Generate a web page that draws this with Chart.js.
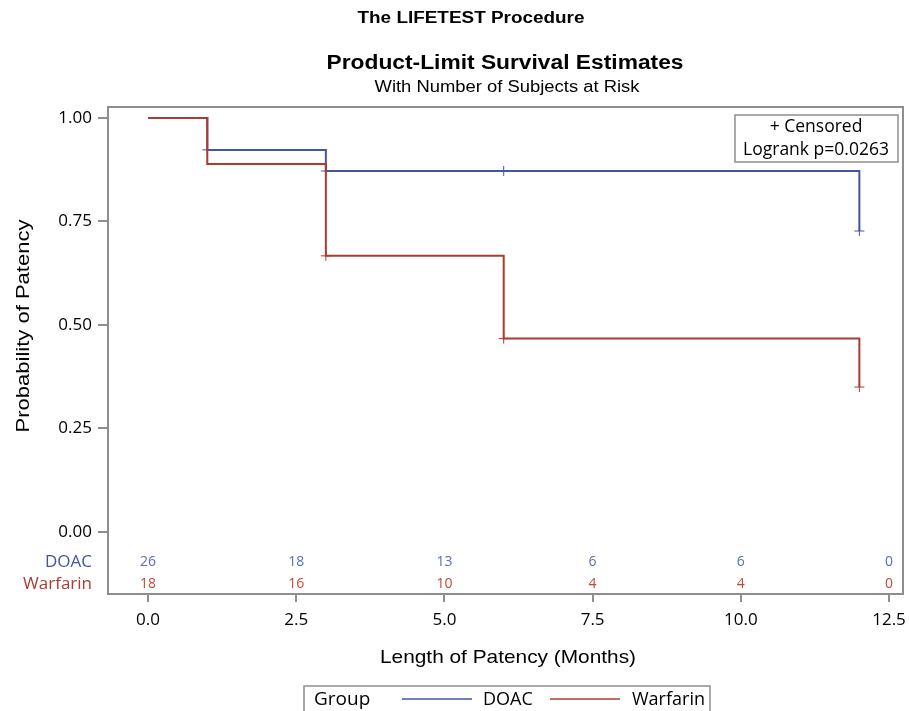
<!DOCTYPE html>
<html>
<head>
<meta charset="utf-8">
<script src="https://cdn.jsdelivr.net/npm/chart.js@4.4.1/dist/chart.umd.min.js"></script>
<style>
  html, body { margin: 0; padding: 0; background: #fff; }
  #wrap { width: 909px; height: 711px; position: relative; }
</style>
</head>
<body>
<div id="wrap"><canvas id="km"></canvas></div>
<script>
// Kaplan-Meier step values (time in months, survival probability)
const doacTimes = [0, 1, 3, 12];
const doacSurv = [1.0, 0.923, 0.872, 0.727];
const warfTimes = [0, 1, 3, 6, 12];
const warfSurv = [1.0, 0.889, 0.667, 0.467, 0.350];

// censored observations
const doacCensTimes = [1, 3, 6, 12];
const doacCensSurv = [0.923, 0.872, 0.872, 0.727];
const warfCensTimes = [3, 6, 12];
const warfCensSurv = [0.667, 0.467, 0.350];

// number at risk
const riskTimes = [0, 2.5, 5, 7.5, 10, 12.5];
const doacRisk = [26, 18, 13, 6, 6, 0];
const warfRisk = [18, 16, 10, 4, 4, 0];

const xTicks = [0, 2.5, 5, 7.5, 10, 12.5];
const yTicks = [0, 0.25, 0.5, 0.75, 1];

const BLUE = '#4455a3';
const RED = '#ac3b30';
const BLUE_L = '#5b6db8';
const RED_L = '#c0493d';
const FRAME = '#8e8e8e';

const pts = (xs, ys) => xs.map((x, i) => ({ x: x, y: ys[i] }));

// draw text centred at (cx, cy), stretched to a given width
function fitText(ctx, text, cx, cy, font, w) {
  ctx.save();
  ctx.font = font;
  const m = ctx.measureText(text).width;
  ctx.translate(cx, cy);
  ctx.scale(w / m, 1);
  ctx.textAlign = 'center';
  ctx.fillText(text, 0, 0);
  ctx.restore();
}

const extras = {
  id: 'extras',
  afterDraw(chart) {
    const { ctx, chartArea: a, scales } = chart;
    const xs = scales.x;
    ctx.save();

    // frame
    ctx.strokeStyle = FRAME;
    ctx.lineWidth = 2;
    ctx.strokeRect(a.left, a.top, a.right - a.left, a.bottom - a.top);

    // titles
    ctx.fillStyle = '#000';
    ctx.textBaseline = 'middle';
    fitText(ctx, 'The LIFETEST Procedure', 471, 19, 'bold 16px "Liberation Sans", Arial, sans-serif', 227);
    fitText(ctx, 'Product-Limit Survival Estimates', 505, 63, 'bold 20px "Liberation Sans", Arial, sans-serif', 357);
    fitText(ctx, 'With Number of Subjects at Risk', 507, 88, '16px "Liberation Sans", Arial, sans-serif', 265);

    // axis titles
    fitText(ctx, 'Length of Patency (Months)', 508, 658, '19px "Liberation Sans", Arial, sans-serif', 256);
    ctx.save();
    ctx.translate(24, 326);
    ctx.rotate(-Math.PI / 2);
    fitText(ctx, 'Probability of Patency', 0, 0, '19px "Liberation Sans", Arial, sans-serif', 213);
    ctx.restore();

    // at-risk table
    ctx.textAlign = 'right';
    ctx.font = '17px "Open Sans", sans-serif';
    ctx.fillStyle = BLUE;
    ctx.fillText('DOAC', 92, 562);
    ctx.fillStyle = RED;
    ctx.fillText('Warfarin', 92, 584);
    ctx.textAlign = 'center';
    ctx.font = '14px "Open Sans", sans-serif';
    riskTimes.forEach((t, i) => {
      const px = xs.getPixelForValue(t);
      ctx.fillStyle = BLUE_L;
      ctx.fillText(String(doacRisk[i]), px, 562);
      ctx.fillStyle = RED_L;
      ctx.fillText(String(warfRisk[i]), px, 584);
    });

    // inset box
    ctx.fillStyle = '#fff';
    ctx.fillRect(735, 115, 163, 47);
    ctx.strokeStyle = FRAME;
    ctx.lineWidth = 1.5;
    ctx.strokeRect(735, 115, 163, 47);
    ctx.fillStyle = '#000';
    ctx.font = '17.5px "Open Sans", sans-serif';
    ctx.fillText('+ Censored', 816, 127);
    ctx.fillText('Logrank p=0.0263', 816, 150);

    // bottom legend
    ctx.strokeStyle = FRAME;
    ctx.lineWidth = 1.5;
    ctx.strokeRect(304, 686, 406, 30);
    ctx.textAlign = 'left';
    ctx.font = '19px "Open Sans", sans-serif';
    ctx.fillText('Group', 314, 700);
    ctx.font = '18px "Open Sans", sans-serif';
    ctx.strokeStyle = BLUE;
    ctx.beginPath(); ctx.moveTo(402, 699); ctx.lineTo(472, 699); ctx.stroke();
    ctx.fillText('DOAC', 483, 700);
    ctx.strokeStyle = RED;
    ctx.beginPath(); ctx.moveTo(550, 699); ctx.lineTo(620, 699); ctx.stroke();
    ctx.fillText('Warfarin', 632, 700);

    ctx.restore();
  }
};

new Chart(document.getElementById('km'), {
  type: 'line',
  data: {
    datasets: [
      { label: 'Warfarin', data: pts(warfTimes, warfSurv), stepped: 'before',
        borderColor: RED, borderWidth: 2, pointRadius: 0, fill: false },
      { label: 'Warfarin censored', data: pts(warfCensTimes, warfCensSurv), showLine: false,
        pointStyle: 'cross', pointRadius: 5, borderColor: RED, pointBorderWidth: 1 },
      { label: 'DOAC', data: pts(doacTimes, doacSurv), stepped: 'before',
        borderColor: BLUE, borderWidth: 2, pointRadius: 0, fill: false },
      { label: 'DOAC censored', data: pts(doacCensTimes, doacCensSurv), showLine: false,
        pointStyle: 'cross', pointRadius: 5, borderColor: BLUE, pointBorderWidth: 1 }
    ]
  },
  options: {
    responsive: true,
    maintainAspectRatio: false,
    animation: false,
    layout: { autoPadding: false, padding: { left: 0, top: 107, right: 6, bottom: 0 } },
    plugins: { legend: { display: false }, tooltip: { enabled: false }, title: { display: false } },
    scales: {
      x: {
        type: 'linear', min: -0.675, max: 12.736,
        afterBuildTicks: s => { s.ticks = xTicks.map(v => ({ value: v })); },
        afterFit: s => { s.height = 117; s.paddingLeft = 0; s.paddingRight = 0; },
        grid: { drawOnChartArea: false, tickLength: 8, color: FRAME, lineWidth: 2 },
        border: { color: FRAME, width: 2 },
        ticks: { padding: 8, color: '#000', font: { family: 'Open Sans', size: 17 },
          maxRotation: 0, autoSkip: false, callback: v => Number(v).toFixed(1) }
      },
      y: {
        type: 'linear', min: -0.15, max: 1.0266,
        afterBuildTicks: s => { s.ticks = yTicks.map(v => ({ value: v })); },
        afterFit: s => { s.width = 108; s.paddingTop = 0; s.paddingBottom = 0; },
        grid: { drawOnChartArea: false, tickLength: 10, color: FRAME, lineWidth: 2 },
        border: { color: FRAME, width: 2 },
        ticks: { padding: 6, color: '#000', font: { family: 'Open Sans', size: 17 },
          autoSkip: false, callback: v => Number(v).toFixed(2) }
      }
    }
  },
  plugins: [extras]
});
</script>
</body>
</html>
